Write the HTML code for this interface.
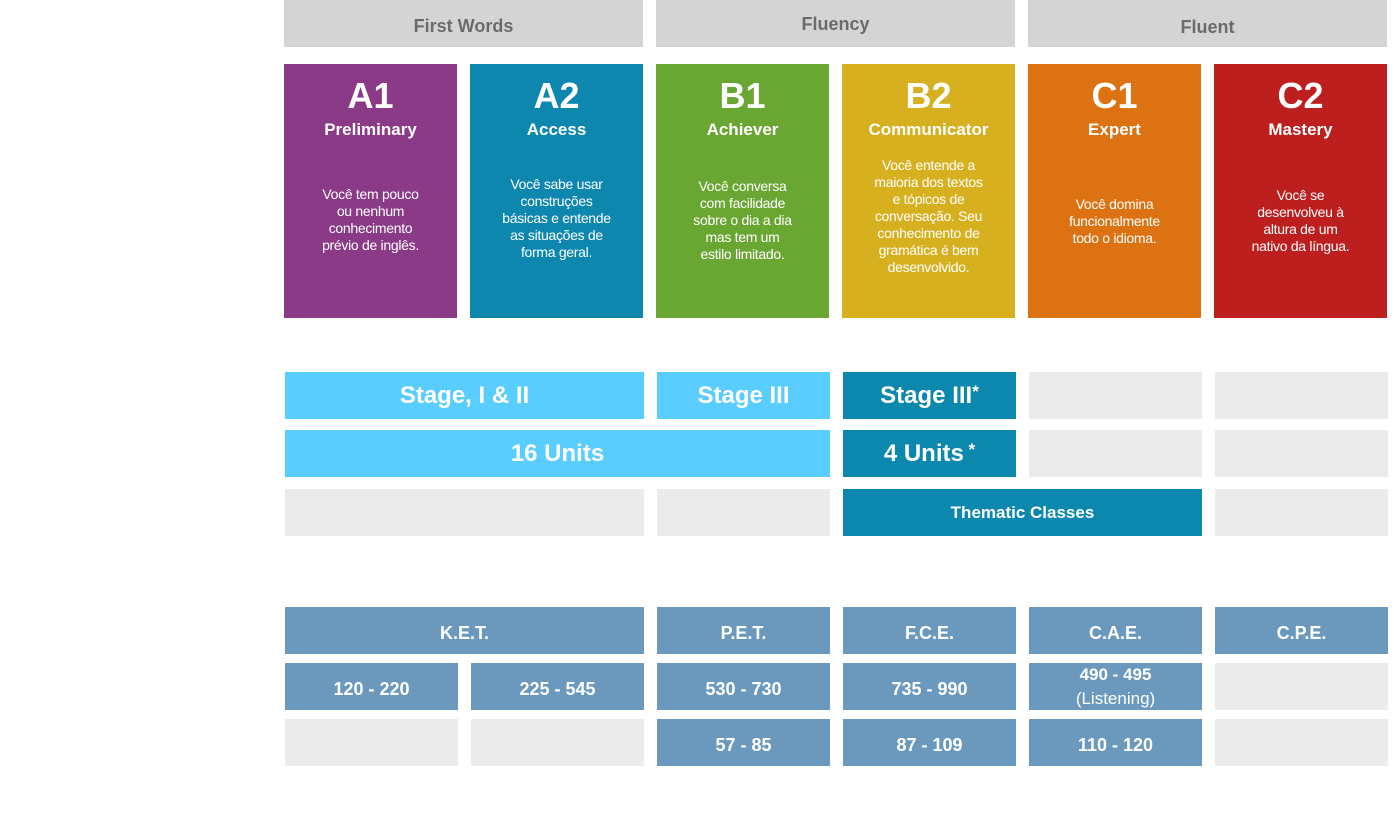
<!DOCTYPE html>
<html><head><meta charset="utf-8"><style>
body{margin:0;width:1394px;height:819px;background:#fff;position:relative;overflow:hidden;font-family:"Liberation Sans",sans-serif}
.b{position:absolute;display:flex;align-items:center;justify-content:center;color:#fff;font-weight:bold;text-align:center}
.h{background:#d4d4d4;color:#6b6b6b;font-size:18px;top:0;height:47px;box-sizing:border-box}
.g{background:#ebebeb}
.c{position:absolute;top:64px;width:173px;height:254px;color:#fff;text-align:center}
.c .t{position:absolute;top:12px;left:0;right:0;font-size:36px;font-weight:bold;line-height:40px}
.c .s{position:absolute;top:56px;left:0;right:0;font-size:17px;font-weight:bold}
.c .d{position:absolute;top:86px;left:0;right:0;height:140px;display:flex;align-items:center;justify-content:center;font-size:14px;line-height:17px;letter-spacing:-0.3px;white-space:nowrap}
.l{background:#59cdff;font-size:24px}
.dk{background:#0c87ae}
.e{background:#6b99bd;font-size:18px;padding-top:6px;box-sizing:border-box}
sup{font-size:17px;position:relative;top:-4px}
</style></head><body>
<div class="b h" style="left:284px;width:359px;padding-top:6px">First Words</div>
<div class="b h" style="left:656px;width:359px;padding-top:2px">Fluency</div>
<div class="b h" style="left:1028px;width:359px;padding-top:8px">Fluent</div>

<div class="c" style="left:284px;background:#8a3a86"><div class="t">A1</div><div class="s">Preliminary</div><div class="d">Você tem pouco<br>ou nenhum<br>conhecimento<br>prévio de inglês.</div></div>
<div class="c" style="left:470px;background:#0d87ae"><div class="t">A2</div><div class="s">Access</div><div class="d" style="top:84px">Você sabe usar<br>construções<br>básicas e entende<br>as situações de<br>forma geral.</div></div>
<div class="c" style="left:656px;background:#6aa632"><div class="t">B1</div><div class="s">Achiever</div><div class="d" style="top:86px">Você conversa<br>com facilidade<br>sobre o dia a dia<br>mas tem um<br>estilo limitado.</div></div>
<div class="c" style="left:842px;background:#d7b020"><div class="t">B2</div><div class="s">Communicator</div><div class="d" style="top:82px">Você entende a<br>maioria dos textos<br>e tópicos de<br>conversação. Seu<br>conhecimento de<br>gramática é bem<br>desenvolvido.</div></div>
<div class="c" style="left:1028px;background:#dc7212"><div class="t">C1</div><div class="s">Expert</div><div class="d" style="top:87px">Você domina<br>funcionalmente<br>todo o idioma.</div></div>
<div class="c" style="left:1214px;background:#bd1e1e"><div class="t">C2</div><div class="s">Mastery</div><div class="d" style="top:87px">Você se<br>desenvolveu à<br>altura de um<br>nativo da língua.</div></div>

<div class="b l" style="left:285px;top:372px;width:359px;height:47px">Stage, I &amp; II</div>
<div class="b l" style="left:657px;top:372px;width:173px;height:47px">Stage III</div>
<div class="b l dk" style="left:843px;top:372px;width:173px;height:47px">Stage III<sup>*</sup></div>
<div class="b g" style="left:1029px;top:372px;width:173px;height:47px"></div>
<div class="b g" style="left:1215px;top:372px;width:173px;height:47px"></div>
<div class="b l" style="left:285px;top:430px;width:545px;height:47px">16 Units</div>
<div class="b l dk" style="left:843px;top:430px;width:173px;height:47px">4 Units<sup>&nbsp;*</sup></div>
<div class="b g" style="left:1029px;top:430px;width:173px;height:47px"></div>
<div class="b g" style="left:1215px;top:430px;width:173px;height:47px"></div>
<div class="b g" style="left:285px;top:489px;width:359px;height:47px"></div>
<div class="b g" style="left:657px;top:489px;width:173px;height:47px"></div>
<div class="b dk" style="left:843px;top:489px;width:359px;height:47px;font-size:17px">Thematic Classes</div>
<div class="b g" style="left:1215px;top:489px;width:173px;height:47px"></div>

<div class="b e" style="left:285px;top:607px;width:359px;height:47px">K.E.T.</div>
<div class="b e" style="left:657px;top:607px;width:173px;height:47px">P.E.T.</div>
<div class="b e" style="left:843px;top:607px;width:173px;height:47px">F.C.E.</div>
<div class="b e" style="left:1029px;top:607px;width:173px;height:47px">C.A.E.</div>
<div class="b e" style="left:1215px;top:607px;width:173px;height:47px">C.P.E.</div>
<div class="b e" style="left:285px;top:663px;width:173px;height:47px">120 - 220</div>
<div class="b e" style="left:471px;top:663px;width:173px;height:47px">225 - 545</div>
<div class="b e" style="left:657px;top:663px;width:173px;height:47px">530 - 730</div>
<div class="b e" style="left:843px;top:663px;width:173px;height:47px">735 - 990</div>
<div class="b e" style="left:1029px;top:663px;width:173px;height:47px;padding-top:0;font-size:17px;font-weight:normal;line-height:24px"><span><b>490 - 495</b><br>(Listening)</span></div>
<div class="b g" style="left:1215px;top:663px;width:173px;height:47px"></div>
<div class="b g" style="left:285px;top:719px;width:173px;height:47px"></div>
<div class="b g" style="left:471px;top:719px;width:173px;height:47px"></div>
<div class="b e" style="left:657px;top:719px;width:173px;height:47px">57 - 85</div>
<div class="b e" style="left:843px;top:719px;width:173px;height:47px">87 - 109</div>
<div class="b e" style="left:1029px;top:719px;width:173px;height:47px">110 - 120</div>
<div class="b g" style="left:1215px;top:719px;width:173px;height:47px"></div>
</body></html>
